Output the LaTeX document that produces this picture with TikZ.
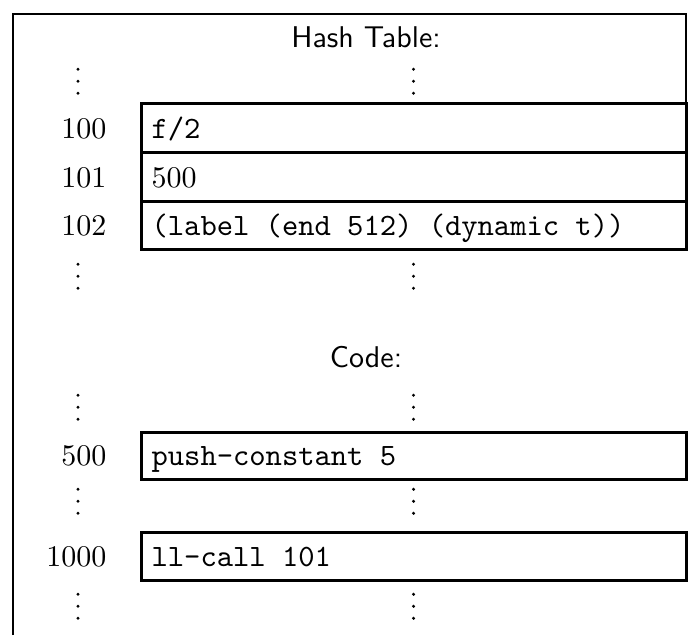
\documentclass[tikz,border=0pt]{standalone}
\begin{document}
\begin{tikzpicture}[x=0.3333pt,y=-0.3333pt,
    cell/.style={draw,line width=1pt},
    addr/.style={anchor=base east,inner sep=0pt},
    entry/.style={anchor=base west,inner sep=0pt},
    code/.style={entry,font=\fontsize{10.35pt}{12pt}\selectfont\ttfamily},
    title/.style={anchor=base,inner sep=0pt,font=\sffamily}]
  \path[use as bounding box] (0,0) rectangle (699,635);
  % open frame
  \draw[line width=0.85pt] (13,635) -- (13,14) -- (686,14) -- (686,104);
  \node[title] (hashtitle) at (366,48) {Hash Table:};
  \draw[cell] (141,104) rectangle (686,153);
  \draw[cell] (141,153) rectangle (686,202);
  \draw[cell] (141,202) rectangle (686,250);
  \node[addr] (a100) at (107,138.5) {100};
  \node[addr] (a101) at (107,187.5) {101};
  \node[addr] (a102) at (107,236) {102};
  \node[code] (e100) at (151,138.5) {f/2};
  \node[entry] (e101) at (151,187.5) {500};
  \node[code] (e102) at (151,236) {(label (end 512) (dynamic t))};
  \node[title] (codetitle) at (366,367) {Code:};
  \draw[cell] (141,432) rectangle (686,479);
  \node[addr] (a500) at (107,465.5) {500};
  \node[code] (e500) at (151,465.5) {push-constant 5};
  \draw[cell] (141,532) rectangle (686,580);
  \node[addr] (a1000) at (107,566) {1000};
  \node[code] (e1000) at (151,566) {ll-call 101};
  % vertical ellipses
  \foreach \yy in {95,290,421,515,620} {
    \foreach \xx in {78,413.5} {
      \foreach \k in {0,1,2}
        \fill (\xx,\yy-1.7-12*\k) circle[radius=0.56pt];
    }
  }
\end{tikzpicture}
\end{document}
